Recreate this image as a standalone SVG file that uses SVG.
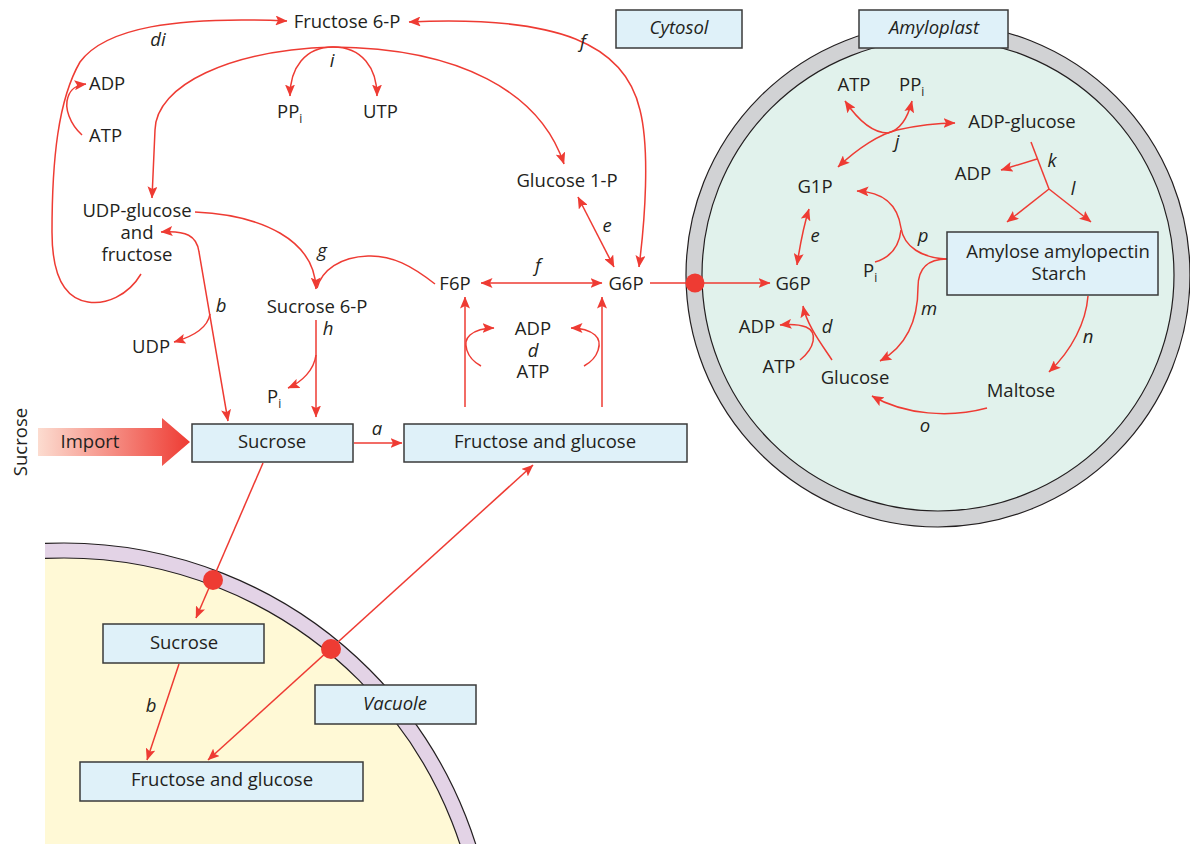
<svg xmlns="http://www.w3.org/2000/svg" width="1190" height="844" viewBox="0 0 1190 844">
<style>
text{font-family:"Open Sans","Noto Sans","Liberation Sans",sans-serif;font-size:18.5px;fill:#231F20}
.m{text-anchor:middle}
.it{font-style:italic}
.sub{font-size:12px}
.box{fill:#DFF1F9;stroke:#3A3A3A;stroke-width:1.5}
.c{fill:none;stroke:#EE3B33;stroke-width:1.5}
.e{marker-end:url(#ah)}
.b{marker-start:url(#ah);marker-end:url(#ah)}
.dot{fill:#EE3B33}
</style>
<defs>
<marker id="ah" viewBox="0 0 12 10" refX="11.5" refY="5" markerWidth="12" markerHeight="10" orient="auto-start-reverse" markerUnits="userSpaceOnUse">
<path d="M0,0 L12,5 L0,10 L2.5,5 Z" fill="#EE3B33"/>
</marker>
<linearGradient id="imp" gradientUnits="userSpaceOnUse" x1="38" y1="0" x2="190" y2="0">
<stop offset="0" stop-color="#FCDCD0"/>
<stop offset="1" stop-color="#EE3B33"/>
</linearGradient>
<clipPath id="vclip"><rect x="45" y="0" width="1145" height="844"/></clipPath>
</defs>
<rect width="1190" height="844" fill="#FFFFFF"/>

<g id="vacuole-region" clip-path="url(#vclip)">
<circle cx="64" cy="975" r="432" fill="#E3D3E6" stroke="#231F20" stroke-width="1.2"/>
<circle cx="64" cy="975" r="417" fill="#FFF9D6" stroke="#231F20" stroke-width="1.2"/>
</g>

<g id="amyloplast-region">
<circle cx="938" cy="275" r="252" fill="#D1D2D4" stroke="#231F20" stroke-width="1.2"/>
<circle cx="938" cy="275" r="236" fill="#E1F2EC" stroke="#231F20" stroke-width="1.2"/>
</g>

<g id="connectors">
<path class="c e" d="M141,274 C128,296 105,305 88,302 C62,298 52,272 52,232 C52,160 58,100 80,62 C105,28 175,16 287,21"/>
<path class="c e" d="M82,135 C70,124 64,108 68,97 C71,88 77,85 86,84"/>
<path class="c e" d="M333,47 C230,50 156,85 155,130 L152,198"/>
<path class="c e" d="M333,47 C460,48 540,92 564,164"/>
<path class="c e" d="M333,47 C305,47 290,68 290,96"/>
<path class="c e" d="M333,47 C362,47 377,68 377,96"/>
<path class="c b" d="M409,22 C560,15 625,45 640,110 C650,150 645,220 639,267"/>
<path class="c b" d="M578,197 L614,267"/>
<path class="c b" d="M481,283 L602,283"/>
<path class="c e" d="M650,283 L770,283"/>
<path class="c e" d="M195,212 C262,215 315,240 316,289"/>
<path class="c" d="M435,284 C412,266 392,255 368,256 C340,257 322,270 317,288"/>
<path class="c b" d="M161,232 C186,230 197,236 199,252 L228,421"/>
<path class="c e" d="M210,314 C208,326 195,336 174,342"/>
<path class="c e" d="M316,320 L316,417"/>
<path class="c e" d="M316,355 C314,370 302,382 288,388"/>
<path class="c e" d="M354,443 L402,443"/>
<path class="c e" d="M465,407 L465,297"/>
<path class="c e" d="M602,407 L602,297"/>
<path class="c e" d="M481,366 C466,358 462,342 470,335 C476,330 484,328 494,328"/>
<path class="c e" d="M584,366 C599,358 603,342 595,335 C589,330 581,328 571,328"/>
<path class="c e" d="M263,463 L196,618"/>
<path class="c e" d="M179,664 L147,760"/>
<path class="c b" d="M208,760 L533,465"/>
<path class="c b" d="M838,167 C858,148 880,134 897,130 C915,126 935,123 955,123"/>
<path class="c b" d="M845,101 C858,120 872,133 888,133 C900,130 908,117 912,101"/>
<path class="c" d="M1031,142 L1049,189"/>
<path class="c e" d="M1037,159 L1001,170"/>
<path class="c e" d="M1049,189 L1007,222"/>
<path class="c e" d="M1049,189 L1091,222"/>
<path class="c e" d="M947,259 C922,258 904,247 901,228 C898,207 885,192 857,191"/>
<path class="c" d="M901,230 C899,248 889,258 875,262"/>
<path class="c e" d="M947,259 C930,259 918,266 918,287 C918,322 905,347 880,361"/>
<path class="c e" d="M1088,296 C1086,322 1072,350 1049,372"/>
<path class="c e" d="M987,408 C950,418 905,415 872,396"/>
<path class="c b" d="M809,209 C803,228 800,245 797,265"/>
<path class="c e" d="M832,360 C820,342 807,325 803,306"/>
<path class="c e" d="M800,360 C815,348 818,332 806,327 C798,324 790,324 780,325"/>
</g>

<g id="transporters">
<circle class="dot" cx="695" cy="283" r="9.5"/>
<circle class="dot" cx="213" cy="580" r="10"/>
<circle class="dot" cx="331" cy="649" r="10"/>
</g>

<g id="labels">
<text class="it m" x="158" y="46">di</text>
<text class="it m" x="332" y="67">i</text>
<text class="it m" x="583" y="48">f</text>
<text class="it m" x="607" y="232">e</text>
<text class="it m" x="538" y="272">f</text>
<text class="it m" x="322" y="257">g</text>
<text class="it m" x="221" y="312">b</text>
<text class="it m" x="328" y="335">h</text>
<text class="it m" x="377" y="435">a</text>
<text class="it m" x="151" y="712">b</text>
<text class="it m" x="897" y="148">j</text>
<text class="it m" x="1052" y="167">k</text>
<text class="it m" x="1073" y="195">l</text>
<text class="it m" x="815" y="242">e</text>
<text class="it m" x="923" y="242">p</text>
<text class="it m" x="929" y="315">m</text>
<text class="it m" x="827" y="333">d</text>
<text class="it m" x="1088" y="343">n</text>
<text class="it m" x="925" y="432">o</text>
</g>

<g id="n-fructose6p"><text class="m" x="347" y="28">Fructose 6-P</text></g>
<g id="n-adp1"><text x="89" y="90">ADP</text></g>
<g id="n-atp1"><text x="89" y="142">ATP</text></g>
<g id="n-ppi1"><text x="277" y="118">PP<tspan class="sub" dy="5">i</tspan></text></g>
<g id="n-utp1"><text x="363" y="118">UTP</text></g>
<g id="n-glucose1p"><text class="m" x="567" y="187">Glucose 1-P</text></g>
<g id="n-udpglucose">
<text class="m"><tspan x="137" y="217">UDP-glucose</tspan><tspan x="137" y="239">and</tspan><tspan x="137" y="261">fructose</tspan></text>
</g>
<g id="n-sucrose6p"><text class="m" x="317" y="313">Sucrose 6-P</text></g>
<g id="n-udp"><text class="m" x="151" y="353">UDP</text></g>
<g id="n-pi1"><text x="267" y="403">P<tspan class="sub" dy="5">i</tspan></text></g>
<g id="n-f6p"><text class="m" x="455" y="290">F6P</text></g>
<g id="n-g6p"><text class="m" x="626" y="290">G6P</text></g>
<g id="n-adp-atp">
<text class="m"><tspan x="533" y="335">ADP</tspan><tspan class="it" x="533" y="357">d</tspan><tspan x="533" y="378">ATP</tspan></text>
</g>
<g id="n-cytosol"><rect class="box" x="616" y="10" width="126" height="38"/><text class="m it" x="679" y="34">Cytosol</text></g>
<g id="n-amyloplast"><rect class="box" x="859" y="10" width="149" height="38"/><text class="m it" x="934" y="34">Amyloplast</text></g>
<g id="n-import">
<path d="M38,428 L162,428 L162,418 L190,442 L162,466 L162,456 L38,456 Z" fill="url(#imp)"/>
<text class="m" x="90" y="448">Import</text>
</g>
<g id="n-sucrose-label"><text class="m" transform="translate(27,442) rotate(-90)" x="0" y="0">Sucrose</text></g>
<g id="n-sucrose"><rect class="box" x="192" y="424" width="161" height="38"/><text class="m" x="272" y="448">Sucrose</text></g>
<g id="n-fructose-glucose"><rect class="box" x="404" y="424" width="283" height="38"/><text class="m" x="545" y="448">Fructose and glucose</text></g>
<g id="n-vac-sucrose"><rect class="box" x="103" y="624" width="161" height="39"/><text class="m" x="184" y="649">Sucrose</text></g>
<g id="n-vac-fructose-glucose"><rect class="box" x="80" y="762" width="283" height="39"/><text class="m" x="222" y="786">Fructose and glucose</text></g>
<g id="n-vacuole"><rect class="box" x="315" y="685" width="161" height="39"/><text class="m it" x="395" y="710">Vacuole</text></g>

<g id="n-atp2"><text class="m" x="854" y="91">ATP</text></g>
<g id="n-ppi2"><text x="899" y="91">PP<tspan class="sub" dy="5">i</tspan></text></g>
<g id="n-adpglucose"><text class="m" x="1022" y="128">ADP-glucose</text></g>
<g id="n-g1p"><text class="m" x="815" y="193">G1P</text></g>
<g id="n-adp2"><text class="m" x="973" y="180">ADP</text></g>
<g id="n-starch"><rect class="box" x="947" y="232" width="211" height="63"/><text class="m"><tspan x="1058" y="258">Amylose amylopectin</tspan><tspan x="1059" y="280">Starch</tspan></text></g>
<g id="n-pi2"><text x="863" y="277">P<tspan class="sub" dy="5">i</tspan></text></g>
<g id="n-g6p2"><text class="m" x="793" y="290">G6P</text></g>
<g id="n-adp3"><text class="m" x="757" y="333">ADP</text></g>
<g id="n-atp3"><text class="m" x="779" y="373">ATP</text></g>
<g id="n-glucose"><text class="m" x="855" y="384">Glucose</text></g>
<g id="n-maltose"><text class="m" x="1021" y="397">Maltose</text></g>
</svg>
